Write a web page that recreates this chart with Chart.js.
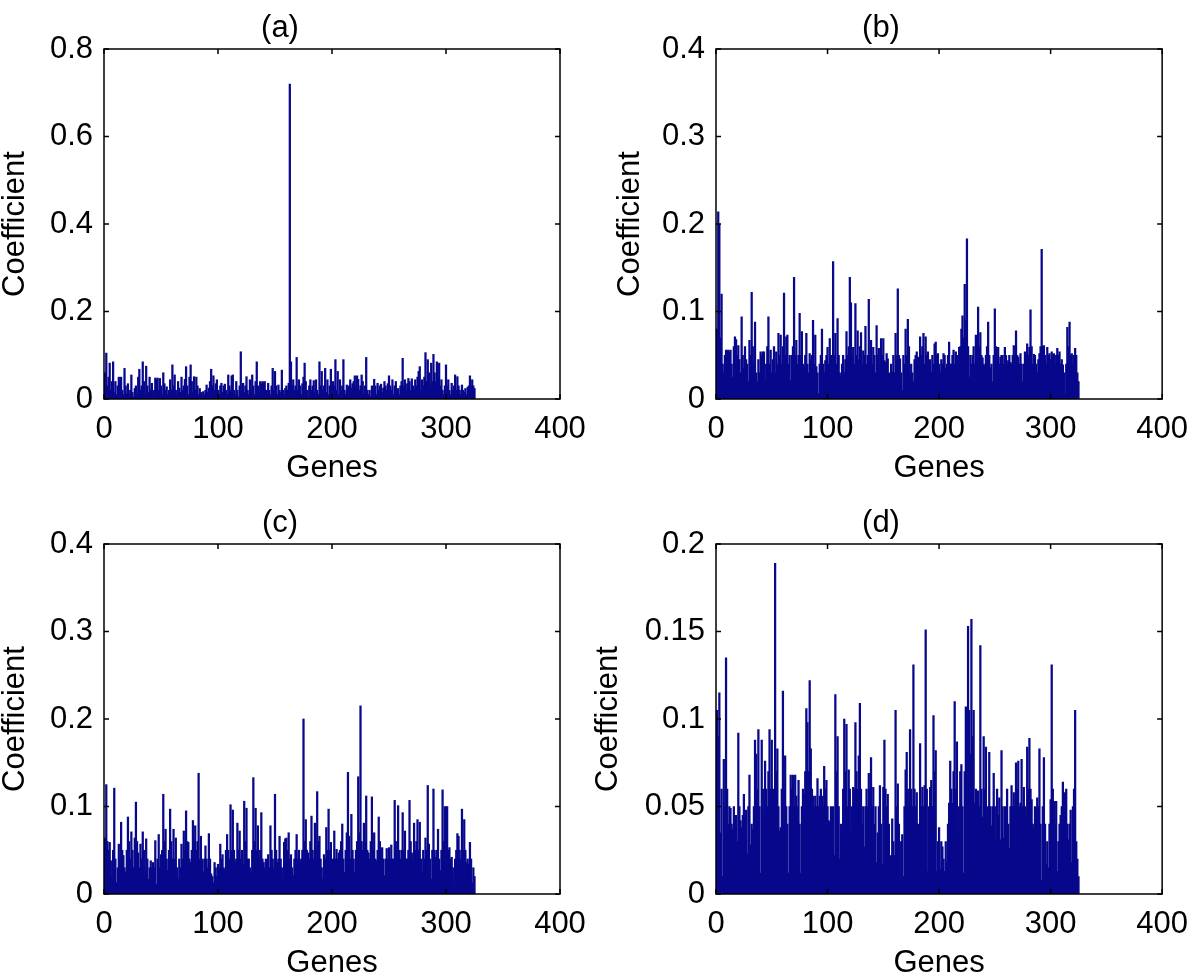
<!DOCTYPE html>
<html>
<head>
<meta charset="utf-8">
<script src="https://cdn.jsdelivr.net/npm/chart.js@4.4.1/dist/chart.umd.min.js"></script>
<style>
html, body { margin: 0; padding: 0; background: #fff; width: 1200px; height: 975px; overflow: hidden; position: relative; }
canvas { position: absolute; }
</style>
</head>
<body>
<canvas id="pa" width="600" height="487" style="left:0px;top:0px"></canvas>
<canvas id="pb" width="610" height="487" style="left:590px;top:0px"></canvas>
<canvas id="pc" width="600" height="500" style="left:0px;top:487px"></canvas>
<canvas id="pd" width="610" height="500" style="left:590px;top:487px"></canvas>
<script>
// gene index 1..325 (category positions on the x axis)
const genes = Array.from({ length: 325 }, (_, i) => i + 1);
const xTicks = [0, 100, 200, 300, 400];

// coefficients, 10 genes per row
const coefA = [
  0.06, 0.105, 0.03, 0.05, 0.082, 0.02, 0.04, 0.085, 0.015, 0.04,
  0.01, 0.03, 0.05, 0.04, 0.05, 0.02, 0.01, 0.07, 0.03, 0.012,
  0.035, 0.01, 0.02, 0.055, 0.015, 0.005, 0.024, 0.03, 0.01, 0.05,
  0.068, 0.02, 0.03, 0.085, 0.04, 0.01, 0.075, 0.03, 0.015, 0.05,
  0.02, 0.036, 0.01, 0.02, 0.048, 0.045, 0.048, 0.02, 0.047, 0.03,
  0.01, 0.06, 0.035, 0.02, 0.028, 0.01, 0.02, 0.044, 0.02, 0.078,
  0.03, 0.055, 0.02, 0.01, 0.04, 0.025, 0.015, 0.05, 0.02, 0.03,
  0.045, 0.074, 0.03, 0.01, 0.05, 0.078, 0.04, 0.015, 0.051, 0.02,
  0.05, 0.03, 0.01, 0.024, 0.015, 0.005, 0.017, 0.01, 0.02, 0.032,
  0.015, 0.025, 0.04, 0.068, 0.03, 0.053, 0.02, 0.035, 0.044, 0.02,
  0.01, 0.03, 0.036, 0.015, 0.03, 0.034, 0.02, 0.01, 0.055, 0.03,
  0.02, 0.053, 0.055, 0.02, 0.01, 0.04, 0.02, 0.005, 0.03, 0.108,
  0.02, 0.036, 0.015, 0.03, 0.051, 0.02, 0.01, 0.044, 0.02, 0.055,
  0.03, 0.01, 0.04, 0.085, 0.03, 0.015, 0.04, 0.035, 0.04, 0.038,
  0.04, 0.02, 0.01, 0.036, 0.02, 0.01, 0.03, 0.07, 0.02, 0.063,
  0.03, 0.01, 0.032, 0.02, 0.015, 0.066, 0.02, 0.01, 0.024, 0.03,
  0.02, 0.036, 0.72, 0.085, 0.03, 0.044, 0.02, 0.03, 0.095, 0.02,
  0.044, 0.03, 0.01, 0.035, 0.05, 0.082, 0.04, 0.02, 0.005, 0.03,
  0.044, 0.02, 0.03, 0.042, 0.015, 0.044, 0.02, 0.01, 0.085, 0.03,
  0.063, 0.02, 0.03, 0.07, 0.015, 0.044, 0.01, 0.03, 0.068, 0.02,
  0.04, 0.03, 0.09, 0.02, 0.063, 0.01, 0.044, 0.02, 0.03, 0.09,
  0.02, 0.01, 0.032, 0.02, 0.03, 0.044, 0.025, 0.035, 0.04, 0.053,
  0.03, 0.053, 0.045, 0.02, 0.03, 0.055, 0.04, 0.01, 0.03, 0.095,
  0.02, 0.01, 0.02, 0.005, 0.03, 0.02, 0.045, 0.03, 0.01, 0.036,
  0.02, 0.03, 0.034, 0.015, 0.025, 0.04, 0.03, 0.02, 0.035, 0.053,
  0.03, 0.02, 0.044, 0.01, 0.03, 0.04, 0.02, 0.024, 0.01, 0.03,
  0.04, 0.093, 0.03, 0.044, 0.02, 0.035, 0.047, 0.04, 0.02, 0.046,
  0.03, 0.02, 0.044, 0.03, 0.05, 0.063, 0.074, 0.02, 0.044, 0.03,
  0.05, 0.106, 0.04, 0.09, 0.06, 0.03, 0.082, 0.04, 0.102, 0.06,
  0.04, 0.085, 0.05, 0.082, 0.03, 0.044, 0.02, 0.01, 0.03, 0.078,
  0.03, 0.044, 0.02, 0.01, 0.036, 0.02, 0.03, 0.055, 0.02, 0.051,
  0.03, 0.02, 0.01, 0.032, 0.02, 0.015, 0.024, 0.01, 0.027, 0.03,
  0.053, 0.03, 0.044, 0.03, 0.024
];

const coefB = [
  0.08, 0.214, 0.2, 0.07, 0.12, 0.04, 0.03, 0.05, 0.056, 0.055,
  0.056, 0.054, 0.056, 0.04, 0.025, 0.06, 0.071, 0.068, 0.05, 0.061,
  0.045, 0.03, 0.094, 0.05, 0.035, 0.06, 0.045, 0.04, 0.02, 0.067,
  0.05, 0.122, 0.06, 0.04, 0.088, 0.03, 0.02, 0.045, 0.03, 0.054,
  0.05, 0.054, 0.054, 0.02, 0.04, 0.06, 0.094, 0.04, 0.056, 0.03,
  0.045, 0.06, 0.03, 0.054, 0.04, 0.075, 0.05, 0.073, 0.04, 0.06,
  0.121, 0.05, 0.071, 0.073, 0.04, 0.05, 0.021, 0.05, 0.06, 0.139,
  0.05, 0.067, 0.04, 0.05, 0.098, 0.05, 0.077, 0.04, 0.037, 0.05,
  0.075, 0.04, 0.03, 0.052, 0.045, 0.05, 0.09, 0.04, 0.073, 0.037,
  0.03, 0.006, 0.04, 0.05, 0.08, 0.04, 0.03, 0.044, 0.05, 0.059,
  0.04, 0.069, 0.05, 0.04, 0.157, 0.05, 0.075, 0.04, 0.092, 0.05,
  0.03, 0.025, 0.04, 0.05, 0.03, 0.045, 0.077, 0.05, 0.06, 0.139,
  0.11, 0.05, 0.059, 0.04, 0.109, 0.05, 0.078, 0.045, 0.06, 0.076,
  0.04, 0.055, 0.05, 0.083, 0.04, 0.05, 0.114, 0.05, 0.067, 0.04,
  0.059, 0.05, 0.03, 0.084, 0.05, 0.058, 0.04, 0.069, 0.05, 0.069,
  0.044, 0.042, 0.052, 0.046, 0.03, 0.02, 0.04, 0.031, 0.05, 0.03,
  0.075, 0.05, 0.126, 0.05, 0.046, 0.03, 0.01, 0.05, 0.04, 0.08,
  0.05, 0.091, 0.06, 0.029, 0.04, 0.03, 0.02, 0.045, 0.05, 0.054,
  0.048, 0.04, 0.071, 0.05, 0.06, 0.075, 0.04, 0.071, 0.05, 0.054,
  0.04, 0.045, 0.031, 0.05, 0.04, 0.063, 0.065, 0.05, 0.052, 0.04,
  0.031, 0.045, 0.04, 0.052, 0.05, 0.035, 0.04, 0.05, 0.065, 0.04,
  0.04, 0.05, 0.056, 0.04, 0.054, 0.05, 0.04, 0.059, 0.06, 0.08,
  0.095, 0.07, 0.131, 0.09, 0.183, 0.06, 0.025, 0.05, 0.04, 0.05,
  0.06, 0.04, 0.073, 0.05, 0.105, 0.06, 0.076, 0.05, 0.047, 0.04,
  0.038, 0.05, 0.06, 0.088, 0.05, 0.036, 0.04, 0.02, 0.05, 0.103,
  0.06, 0.05, 0.059, 0.04, 0.048, 0.05, 0.05, 0.04, 0.059, 0.05,
  0.04, 0.044, 0.05, 0.042, 0.04, 0.05, 0.061, 0.05, 0.078, 0.05,
  0.048, 0.04, 0.052, 0.04, 0.02, 0.04, 0.054, 0.05, 0.063, 0.05,
  0.059, 0.102, 0.06, 0.04, 0.051, 0.05, 0.04, 0.03, 0.045, 0.052,
  0.06, 0.171, 0.06, 0.061, 0.05, 0.04, 0.059, 0.05, 0.052, 0.045,
  0.054, 0.05, 0.052, 0.04, 0.05, 0.058, 0.05, 0.054, 0.04, 0.045,
  0.039, 0.03, 0.006, 0.04, 0.082, 0.06, 0.088, 0.05, 0.052, 0.04,
  0.05, 0.058, 0.05, 0.03, 0.02
];

const coefC = [
  0.064, 0.125, 0.06, 0.05, 0.059, 0.038, 0.02, 0.05, 0.121, 0.04,
  0.013, 0.03, 0.057, 0.04, 0.082, 0.05, 0.044, 0.03, 0.025, 0.05,
  0.088, 0.06, 0.04, 0.071, 0.05, 0.03, 0.064, 0.105, 0.06, 0.047,
  0.03, 0.057, 0.04, 0.071, 0.05, 0.027, 0.063, 0.04, 0.017, 0.03,
  0.038, 0.03, 0.036, 0.03, 0.061, 0.011, 0.04, 0.068, 0.03, 0.045,
  0.05, 0.114, 0.06, 0.074, 0.04, 0.027, 0.05, 0.097, 0.06, 0.04,
  0.074, 0.04, 0.064, 0.03, 0.017, 0.04, 0.03, 0.057, 0.04, 0.072,
  0.05, 0.095, 0.06, 0.059, 0.04, 0.036, 0.05, 0.084, 0.06, 0.078,
  0.05, 0.06, 0.138, 0.04, 0.066, 0.04, 0.025, 0.04, 0.055, 0.04,
  0.03, 0.069, 0.04, 0.023, 0.02, 0.013, 0.036, 0.03, 0.02, 0.034,
  0.03, 0.057, 0.04, 0.045, 0.03, 0.028, 0.05, 0.068, 0.05, 0.04,
  0.102, 0.05, 0.096, 0.05, 0.036, 0.04, 0.081, 0.05, 0.072, 0.04,
  0.05, 0.034, 0.106, 0.06, 0.098, 0.04, 0.04, 0.03, 0.025, 0.05,
  0.133, 0.06, 0.098, 0.05, 0.078, 0.04, 0.05, 0.093, 0.04, 0.036,
  0.03, 0.04, 0.038, 0.045, 0.03, 0.078, 0.05, 0.04, 0.03, 0.114,
  0.05, 0.036, 0.04, 0.066, 0.04, 0.03, 0.021, 0.059, 0.063, 0.064,
  0.05, 0.07, 0.04, 0.045, 0.03, 0.021, 0.04, 0.05, 0.068, 0.04,
  0.05, 0.036, 0.04, 0.05, 0.2, 0.06, 0.085, 0.05, 0.047, 0.04,
  0.06, 0.089, 0.05, 0.04, 0.081, 0.05, 0.117, 0.06, 0.066, 0.04,
  0.03, 0.017, 0.045, 0.04, 0.076, 0.05, 0.097, 0.05, 0.059, 0.036,
  0.04, 0.072, 0.04, 0.051, 0.04, 0.047, 0.05, 0.06, 0.08, 0.04,
  0.025, 0.05, 0.07, 0.139, 0.066, 0.04, 0.091, 0.05, 0.04, 0.025,
  0.05, 0.06, 0.134, 0.07, 0.215, 0.06, 0.05, 0.081, 0.06, 0.112,
  0.05, 0.047, 0.04, 0.06, 0.111, 0.05, 0.07, 0.04, 0.038, 0.05,
  0.088, 0.06, 0.04, 0.053, 0.04, 0.021, 0.04, 0.052, 0.04, 0.053,
  0.04, 0.056, 0.04, 0.04, 0.107, 0.06, 0.05, 0.101, 0.05, 0.04,
  0.05, 0.093, 0.05, 0.072, 0.04, 0.04, 0.05, 0.107, 0.06, 0.047,
  0.04, 0.081, 0.05, 0.06, 0.085, 0.05, 0.082, 0.04, 0.025, 0.05,
  0.04, 0.064, 0.05, 0.124, 0.057, 0.04, 0.017, 0.05, 0.12, 0.05,
  0.042, 0.05, 0.074, 0.04, 0.027, 0.05, 0.119, 0.06, 0.1, 0.06,
  0.1, 0.05, 0.053, 0.04, 0.042, 0.03, 0.013, 0.04, 0.05, 0.069,
  0.066, 0.05, 0.04, 0.097, 0.05, 0.085, 0.05, 0.036, 0.04, 0.034,
  0.059, 0.04, 0.013, 0.03, 0.02
];

const coefD = [
  0.105, 0.09, 0.115, 0.035, 0.06, 0.01, 0.077, 0.05, 0.135, 0.06,
  0.04, 0.05, 0.049, 0.04, 0.037, 0.05, 0.044, 0.045, 0.03, 0.092,
  0.05, 0.042, 0.038, 0.045, 0.057, 0.04, 0.048, 0.023, 0.05, 0.068,
  0.028, 0.04, 0.037, 0.05, 0.088, 0.08, 0.06, 0.094, 0.05, 0.012,
  0.088, 0.06, 0.046, 0.076, 0.06, 0.05, 0.07, 0.094, 0.06, 0.088,
  0.06, 0.041, 0.189, 0.07, 0.083, 0.05, 0.036, 0.038, 0.06, 0.116,
  0.06, 0.079, 0.05, 0.04, 0.012, 0.05, 0.068, 0.06, 0.068, 0.05,
  0.068, 0.056, 0.05, 0.065, 0.04, 0.012, 0.05, 0.06, 0.057, 0.07,
  0.106, 0.098, 0.07, 0.122, 0.083, 0.06, 0.056, 0.05, 0.056, 0.05,
  0.066, 0.05, 0.056, 0.06, 0.056, 0.05, 0.073, 0.06, 0.065, 0.05,
  0.042, 0.041, 0.05, 0.042, 0.05, 0.022, 0.114, 0.07, 0.09, 0.05,
  0.02, 0.04, 0.036, 0.06, 0.1, 0.07, 0.097, 0.05, 0.071, 0.06,
  0.036, 0.05, 0.061, 0.06, 0.098, 0.07, 0.06, 0.079, 0.109, 0.06,
  0.04, 0.05, 0.027, 0.05, 0.06, 0.05, 0.069, 0.06, 0.078, 0.05,
  0.061, 0.04, 0.05, 0.018, 0.035, 0.05, 0.062, 0.04, 0.017, 0.061,
  0.088, 0.06, 0.05, 0.057, 0.04, 0.01, 0.022, 0.043, 0.03, 0.022,
  0.105, 0.05, 0.063, 0.04, 0.008, 0.03, 0.034, 0.01, 0.05, 0.071,
  0.081, 0.06, 0.05, 0.094, 0.06, 0.05, 0.131, 0.06, 0.05, 0.058,
  0.04, 0.012, 0.086, 0.05, 0.061, 0.05, 0.062, 0.151, 0.06, 0.013,
  0.05, 0.061, 0.065, 0.05, 0.102, 0.07, 0.082, 0.013, 0.03, 0.038,
  0.014, 0.03, 0.027, 0.02, 0.013, 0.03, 0.018, 0.04, 0.052, 0.076,
  0.06, 0.052, 0.07, 0.11, 0.06, 0.087, 0.034, 0.05, 0.07, 0.074,
  0.05, 0.012, 0.07, 0.107, 0.106, 0.153, 0.105, 0.08, 0.157, 0.09,
  0.105, 0.052, 0.06, 0.046, 0.059, 0.05, 0.142, 0.06, 0.044, 0.09,
  0.06, 0.084, 0.044, 0.05, 0.081, 0.05, 0.039, 0.05, 0.069, 0.05,
  0.032, 0.06, 0.045, 0.055, 0.031, 0.082, 0.05, 0.032, 0.05, 0.045,
  0.06, 0.04, 0.026, 0.05, 0.062, 0.05, 0.058, 0.05, 0.075, 0.06,
  0.076, 0.05, 0.052, 0.077, 0.05, 0.061, 0.05, 0.045, 0.084, 0.06,
  0.089, 0.06, 0.054, 0.04, 0.038, 0.05, 0.049, 0.055, 0.05, 0.083,
  0.04, 0.008, 0.05, 0.078, 0.04, 0.017, 0.03, 0.015, 0.04, 0.054,
  0.131, 0.06, 0.053, 0.04, 0.053, 0.013, 0.03, 0.04, 0.045, 0.05,
  0.064, 0.05, 0.058, 0.06, 0.04, 0.031, 0.04, 0.048, 0.018, 0.05,
  0.06, 0.105, 0.03, 0.02, 0.01
];

const FONT = "'Liberation Sans', Arial, Helvetica, sans-serif";
const BAR_COLOR = 'rgb(8, 8, 140)';

// frame with inward ticks on all four sides, like the original
const boxPlugin = {
  id: 'box',
  afterDraw(chart) {
    const { ctx, chartArea: a, scales: { x, y } } = chart;
    const len = 5;
    ctx.save();
    ctx.strokeStyle = '#000';
    ctx.lineWidth = 1.5;
    ctx.strokeRect(a.left, a.top, a.right - a.left, a.bottom - a.top);
    ctx.beginPath();
    x.ticks.forEach(t => {
      const px = x.getPixelForValue(t.value);
      ctx.moveTo(px, a.bottom); ctx.lineTo(px, a.bottom - len);
      ctx.moveTo(px, a.top); ctx.lineTo(px, a.top + len);
    });
    y.ticks.forEach(t => {
      const py = y.getPixelForValue(t.value);
      ctx.moveTo(a.left, py); ctx.lineTo(a.left + len, py);
      ctx.moveTo(a.right, py); ctx.lineTo(a.right - len, py);
    });
    ctx.stroke();
    ctx.restore();
  }
};

function makePanel(id, title, values, yMax, yStep, lay) {
  const ctx = document.getElementById(id).getContext('2d');
  return new Chart(ctx, {
    type: 'bar',
    data: {
      datasets: [{
        data: genes.map((g, i) => ({ x: g, y: values[i] })),
        backgroundColor: BAR_COLOR,
        borderWidth: 0,
        barThickness: 1.6   // slight overlap so neighbouring bars read as one fill
      }]
    },
    options: {
      responsive: false,
      animation: false,
      devicePixelRatio: 1,
      events: [],
      layout: { padding: { left: 0, right: lay.padRight, top: 0, bottom: 0 } },
      plugins: {
        legend: { display: false },
        tooltip: { enabled: false },
        title: {
          display: true,
          text: title,
          color: '#000',
          font: { family: FONT, size: 31, weight: 'normal', lineHeight: 1.2 },
          padding: { top: lay.titleTop, bottom: lay.titleBottom }
        }
      },
      scales: {
        x: {
          type: 'linear',
          offset: false,
          min: 0,
          max: 400,
          afterBuildTicks: s => { s.ticks = xTicks.map(v => ({ value: v })); },
          grid: { display: false, drawTicks: false },
          border: { display: false },
          ticks: { color: '#000', font: { family: FONT, size: 31 }, padding: 12, maxRotation: 0 },
          title: {
            display: true, text: 'Genes', color: '#000',
            font: { family: FONT, size: 31, lineHeight: 1 },
            padding: { top: 0, bottom: lay.xTitlePad }
          },
          afterFit: s => { s.height = lay.xAxisH; }
        },
        y: {
          min: 0,
          max: yMax,
          grid: { display: false, drawTicks: false },
          border: { display: false },
          ticks: {
            stepSize: yStep,
            color: '#000',
            font: { family: FONT, size: 31 },
            padding: 11,
            callback: v => String(+v.toFixed(3))
          },
          title: {
            display: true, text: 'Coefficient', color: '#000',
            font: { family: FONT, size: 31, lineHeight: 1 },
            padding: { top: lay.yTitlePad, bottom: 0 }
          },
          afterFit: s => { s.width = lay.yAxisW; }
        }
      }
    },
    plugins: [boxPlugin]
  });
}

makePanel('pa', '(a)', coefA, 0.8, 0.2,
  { yAxisW: 104, padRight: 40, titleTop: 9.4, titleBottom: 2.4, xAxisH: 88, xTitlePad: 3.5, yTitlePad: 0 });
makePanel('pb', '(b)', coefB, 0.4, 0.1,
  { yAxisW: 126, padRight: 28, titleTop: 9.4, titleBottom: 2.4, xAxisH: 88, xTitlePad: 3.5, yTitlePad: 24.5 });
makePanel('pc', '(c)', coefC, 0.4, 0.1,
  { yAxisW: 104, padRight: 40, titleTop: 17.4, titleBottom: 2.4, xAxisH: 93, xTitlePad: 8.5, yTitlePad: 0 });
makePanel('pd', '(d)', coefD, 0.2, 0.05,
  { yAxisW: 126, padRight: 28, titleTop: 17.4, titleBottom: 2.4, xAxisH: 93, xTitlePad: 8.5, yTitlePad: 2.5 });
</script>
</body>
</html>
